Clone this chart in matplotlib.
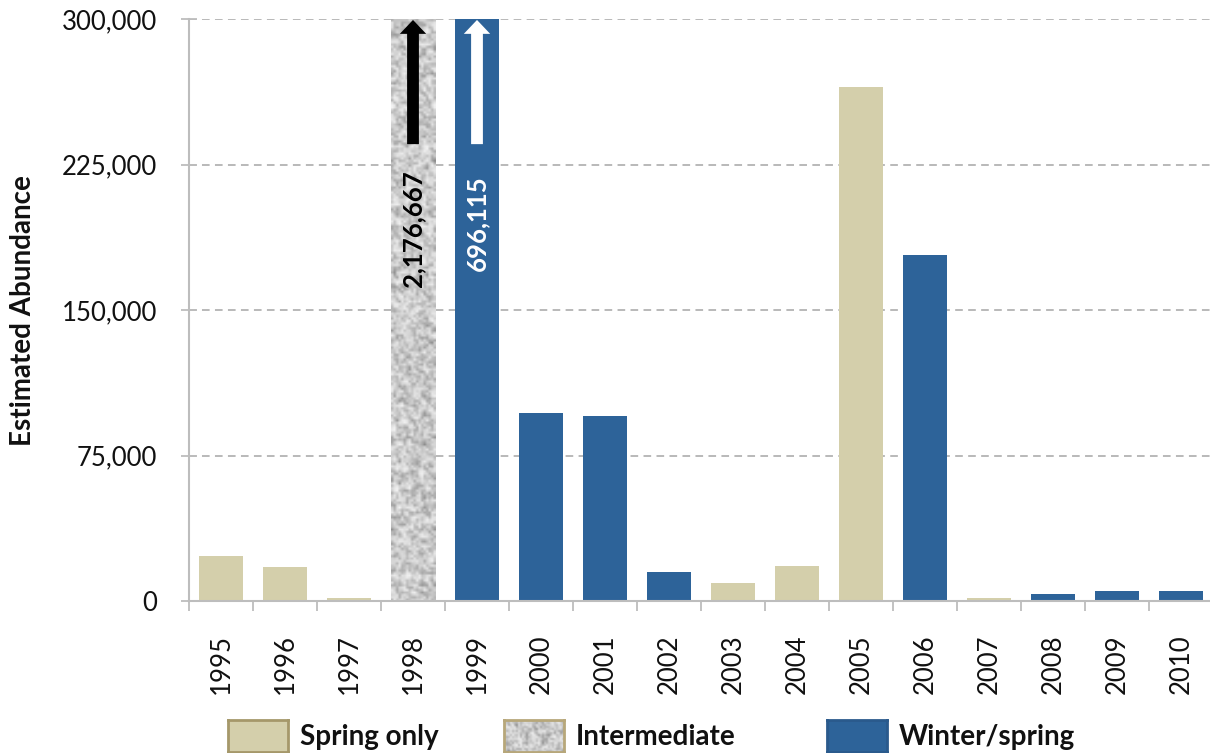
import numpy as np
import matplotlib
matplotlib.use("Agg")
import matplotlib.pyplot as plt
from matplotlib.ticker import FuncFormatter, MultipleLocator

plt.rcParams["font.family"] = ["Lato", "DejaVu Sans"]

years = [str(y) for y in range(1995, 2011)]
season = ["spring", "spring", "spring", "inter", "winter", "winter", "winter", "winter",
          "spring", "spring", "spring", "winter", "spring", "winter", "winter", "winter"]
abundance = [23000, 17500, 1500, 2176667, 696115, 97000, 95500, 15000,
             9500, 18000, 265000, 178500, 1500, 3500, 5000, 5000]
legend_labels = {"spring": "Spring only", "inter": "Intermediate", "winter": "Winter/spring"}

TAN, TAN_EDGE = "#d4cfab", "#a5986a"
BLUE = "#2d6399"
GRID = "#a6a6a6"
AXIS = "#bdbdbd"
TXT = "#111111"
YMAX = 300000
W = 0.7


def grain(h, w, seed=1.0):
    # speckled grey texture for the "intermediate" fill
    i, j = np.mgrid[0:h, 0:w]
    v = np.sin(i * 12.9898 + j * 78.233 + seed * 3.7) * 43758.5453
    v = v - np.floor(v)
    s = (v + np.roll(v, 1, 0) + np.roll(v, 1, 1) + np.roll(np.roll(v, 1, 0), 1, 1)) / 4
    t = 0.4 * v + 0.6 * s
    return 0.42 + 0.55 * t ** 0.55


fig = plt.figure(figsize=(12.1, 7.53), dpi=100)
ax = fig.add_axes([189 / 1210, 152 / 753, 1024 / 1210, 582 / 753])

x = np.arange(len(years))
for xi, v, s in zip(x, abundance, season):
    top = min(v, YMAX)
    if s == "inter":
        ax.imshow(grain(240, 18), cmap="gray", vmin=0, vmax=1, aspect="auto",
                  extent=(xi - W / 2, xi + W / 2, 0, top), interpolation="bilinear", zorder=2)
    else:
        ax.bar(xi, top, width=W, color=TAN if s == "spring" else BLUE, zorder=2)

ax.set_xlim(-0.5, len(years) - 0.5)
ax.set_ylim(0, YMAX)
ax.set_aspect("auto")

# arrows + labels for the two off-scale years
i98, i99 = years.index("1998"), years.index("1999")
for xi, col in ((i98, "black"), (i99, "white")):
    ax.annotate("", xy=(xi, 299500), xytext=(xi, 235500),
                arrowprops=dict(arrowstyle="simple,head_length=1.0,head_width=1.9,tail_width=0.85",
                                mutation_scale=10, color=col, lw=0, shrinkA=0, shrinkB=0),
                zorder=4)
ax.text(i98, 192000, f"{abundance[i98]:,}", rotation=90, ha="center", va="center",
        fontsize=18.5, fontweight="bold", color="black", zorder=4)
ax.text(i99, 195000, f"{abundance[i99]:,}", rotation=90, ha="center", va="center",
        fontsize=18.5, fontweight="bold", color="white", zorder=4)

ax.yaxis.set_major_locator(MultipleLocator(75000))
ax.yaxis.set_major_formatter(FuncFormatter(lambda v, p: f"{int(v):,}"))
ax.grid(axis="y", color=GRID, linestyle=(0, (5, 3.5)), linewidth=1.1, zorder=0)
ax.set_axisbelow(True)

ax.set_xticks(x)
ax.set_xticklabels(years, rotation=90, fontsize=18.5, color=TXT)
ax.set_xticks(np.arange(-0.5, len(years)), minor=True)
ax.tick_params(axis="x", which="major", length=0, pad=24)
ax.tick_params(axis="x", which="minor", length=7, width=1.3, color=AXIS, direction="out")
ax.tick_params(axis="y", length=11.5, width=1.3, color=AXIS, direction="inout",
               labelsize=18.5, labelcolor=TXT, pad=17)

for side in ("top", "right"):
    ax.spines[side].set_visible(False)
for side in ("left", "bottom"):
    ax.spines[side].set_color(AXIS)
    ax.spines[side].set_linewidth(1.5)

fig.text(23 / 1210, 1 - 311 / 753, "Estimated Abundance", rotation=90, ha="center", va="center",
         fontsize=20, fontweight="bold", color=TXT)

# legend row along the bottom edge
swatches = [("spring", 228), ("inter", 504), ("winter", 827)]
for key, px in swatches:
    sax = fig.add_axes([px / 1210, 1 / 753, 60 / 1210, 32 / 753])
    sax.set_xticks([])
    sax.set_yticks([])
    if key == "inter":
        sax.imshow(grain(16, 30, 5.0), cmap="gray", vmin=0, vmax=1, aspect="auto",
                   interpolation="bilinear")
        edge = "#b7a77a"
    elif key == "spring":
        sax.set_facecolor(TAN)
        edge = TAN_EDGE
    else:
        sax.set_facecolor(BLUE)
        edge = "#2a5a8c"
    for sp in sax.spines.values():
        sp.set_color(edge)
        sp.set_linewidth(2)
    fig.text((px + 72) / 1210, 1 - 737 / 753, legend_labels[key], ha="left", va="center",
             fontsize=20, fontweight="bold", color=TXT)

fig.savefig("out.png", dpi=100)
